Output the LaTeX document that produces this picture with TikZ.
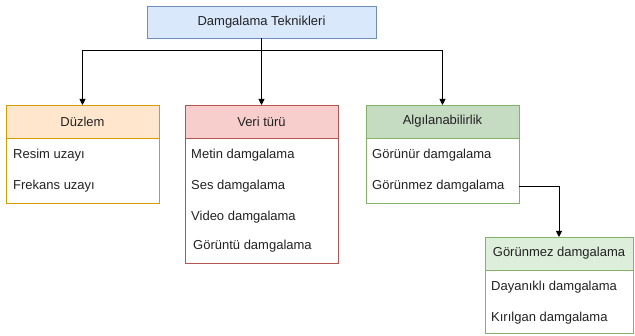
\documentclass[tikz,border=0pt]{standalone}
\usepackage{fontspec}
\setmainfont{Liberation Sans}
\usetikzlibrary{arrows.meta}
\definecolor{blueF}{HTML}{DAE8FC}\definecolor{blueD}{HTML}{6C8EBF}
\definecolor{orF}{HTML}{FFE6CC}\definecolor{orD}{HTML}{D79B00}
\definecolor{redF}{HTML}{F8CECC}\definecolor{redD}{HTML}{B85450}
\definecolor{grF}{HTML}{C5DBC2}\definecolor{grD}{HTML}{82B366}
\definecolor{lgrF}{HTML}{DDEFDA}
\definecolor{txt}{HTML}{222222}
\begin{document}
\begin{tikzpicture}[x=1pt,y=-1pt,
  font=\fontsize{13}{15}\selectfont, text=txt,
  box/.style={draw, line width=0.9pt, inner sep=0pt, outer sep=0pt, anchor=north west},
  item/.style={anchor=west, inner sep=0pt},
  arr/.style={-{Triangle[length=6pt,width=6pt]}, line width=0.9pt, draw=black}]
\path[use as bounding box] (0,0) rectangle (635,336);
% root
\node[box, fill=blueF, draw=blueD, minimum width=229pt, minimum height=32pt] (top) at (147,6) {Damgalama Teknikleri};
% Duzlem
\node[box, draw=orD, fill=white, minimum width=153pt, minimum height=98pt] (duzB) at (6,105) {};
\node[box, draw=orD, fill=orF, minimum width=153pt, minimum height=33pt] (duzH) at (6,105) {Düzlem};
\node[item] (duz1) at (13,155) {Resim uzayı};
\node[item] (duz2) at (13,186) {Frekans uzayı};
% Veri turu
\node[box, draw=redD, fill=white, minimum width=153pt, minimum height=158pt] (verB) at (185,105) {};
\node[box, draw=redD, fill=redF, minimum width=153pt, minimum height=33pt] (verH) at (185,105) {Veri türü};
\node[item] (ver1) at (191,155) {Metin damgalama};
\node[item] (ver2) at (191,186) {Ses damgalama};
\node[item] (ver3) at (191,217) {Video damgalama};
\node[item] (ver4) at (193,246) {Görüntü damgalama};
% Algilanabilirlik
\node[box, draw=grD, fill=white, minimum width=153pt, minimum height=98pt] (algB) at (366,105) {};
\node[box, draw=grD, fill=grF, minimum width=153pt, minimum height=33pt] (algH) at (366,105) {Algılanabilirlik};
\node[item] (alg1) at (372,155) {Görünür damgalama};
\node[item] (alg2) at (372,186) {Görünmez damgalama};
% Gorunmez
\node[box, draw=grD, fill=white, minimum width=148pt, minimum height=96pt] (gorB) at (485,237) {};
\node[box, draw=grD, fill=lgrF, minimum width=148pt, minimum height=33pt] (gorH) at (485,237) {Görünmez damgalama};
\node[item] (gor1) at (491,287) {Dayanıklı damgalama};
\node[item] (gor2) at (491,318) {Kırılgan damgalama};
% connectors
\coordinate (j) at (top.south |- 0,50);
\draw[arr] (top.south) -- (verH.north);
\draw[arr] (j) -| (duzH.north);
\draw[arr] (j) -| (algH.north);
\coordinate (r) at (algB.east |- alg2.east);
\draw[arr] (r) -| (gorH.north);
\end{tikzpicture}
\end{document}
